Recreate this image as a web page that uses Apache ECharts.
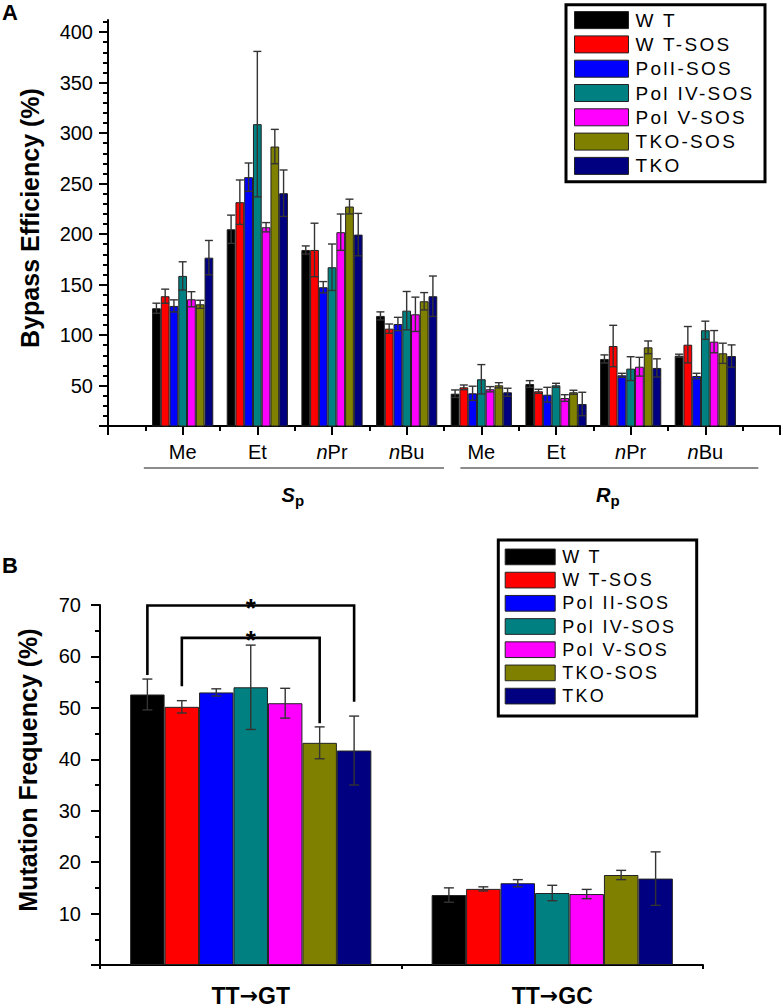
<!DOCTYPE html>
<html><head><meta charset="utf-8">
<script src="https://cdn.jsdelivr.net/npm/echarts@6/dist/echarts.min.js"></script>
<style>
html,body{margin:0;padding:0;background:#fff;}
#c{width:783px;height:1008px;}
#c text[style*="Liberation Sans"]{letter-spacing:2.3px;}
</style></head><body><div id="c"></div>
<script>
// ---------- Panel A data ----------
const catsA = ['Me','Et','nPr','nBu','Me','Et','nPr','nBu'];
const groupsA = ['S','R'];
const namesA = ['W T','W T-SOS','PolI-SOS','Pol IV-SOS','Pol V-SOS','TKO-SOS','TKO'];
const wtA      = [126.6, 204.8, 184.3, 119.0, 42.0, 51.6, 76.4, 79.6];
const wtSosA   = [138.5, 231.6, 184.3, 106.4, 48.3, 44.4, 89.2, 90.5];
const pol2A    = [128.9, 256.4, 147.4, 111.0, 42.4, 41.0, 60.2, 59.5];
const pol4A    = [158.6, 308.9, 167.2, 124.2, 56.3, 50.3, 66.8, 104.8];
const pol5A    = [135.5, 206.8, 201.9, 120.6, 46.4, 37.7, 68.7, 93.5];
const tkoSosA  = [130.5, 286.7, 227.3, 133.5, 50.3, 43.4, 87.9, 82.0];
const tkoA     = [176.7, 240.5, 199.5, 138.5, 43.4, 31.8, 67.5, 79.3];
const wtErrA     = [5, 14, 4, 4, 3.7, 3.3, 4, 1.5];
const wtSosErrA  = [7, 22, 26.5, 4.6, 2.3, 2, 20.5, 18];
const pol2ErrA   = [6, 14, 5.6, 6.6, 7, 7.3, 2, 2.7];
const pol4ErrA   = [14, 72, 23, 19, 14.5, 2, 11.8, 9];
const pol5ErrA   = [7.5, 4.6, 18, 17, 2.6, 3.3, 9.3, 11];
const tkoSosErrA = [4, 17, 7.3, 8.6, 2.6, 2, 6.3, 10];
const tkoErrA    = [17, 23, 21, 20, 4, 11.6, 9, 11];
const yTicksA = [50,100,150,200,250,300,350,400];
const yMinorA = [20,30,40,60,70,80,90,110,120,130,140,160,170,180,190,210,220,230,240,260,270,280,290,310,320,330,340,360,370,380,390,410];

// ---------- Panel B data ----------
const catsB = ['TT\u2192GT','TT\u2192GC'];
const namesB = ['W T','W T-SOS','Pol II-SOS','Pol IV-SOS','Pol V-SOS','TKO-SOS','TKO'];
const wtB     = [52.6, 13.6];
const wtSosB  = [50.2, 14.8];
const pol2B   = [53.0, 15.9];
const pol4B   = [54.0, 14.0];
const pol5B   = [50.9, 13.8];
const tkoSosB = [43.2, 17.5];
const tkoB    = [41.7, 16.8];
const wtErrB     = [3.0, 1.4];
const wtSosErrB  = [1.2, 0.4];
const pol2ErrB   = [0.7, 0.7];
const pol4ErrB   = [8.2, 1.5];
const pol5ErrB   = [2.9, 0.9];
const tkoSosErrB = [3.1, 0.9];
const tkoErrB    = [6.7, 5.2];
// significance brackets: [category, fromSeries, toSeries, topValue, leftFoot, rightFoot]
const bracketsB = [[0, 0, 6, 69.9, 56.4, 51.2], [0, 1, 5, 63.6, 54.2, 47.0]];

const colors = ['#000000','#FF0000','#0000FF','#008080','#FF00FF','#808000','#000080'];

const valsA = [wtA, wtSosA, pol2A, pol4A, pol5A, tkoSosA, tkoA];
const errsA = [wtErrA, wtSosErrA, pol2ErrA, pol4ErrA, pol5ErrA, tkoSosErrA, tkoErrA];
const valsB = [wtB, wtSosB, pol2B, pol4B, pol5B, tkoSosB, tkoB];
const errsB = [wtErrB, wtSosErrB, pol2ErrB, pol4ErrB, pol5ErrB, tkoSosErrB, tkoErrB];

const GAP_A = 0.18, GAP_B = 0.20, N = 7;
const F = 'Arial';
const blk = {color:'#000', width:2};

function errRender(gap, capW){
  return function(params, api){
    const c = api.value(0), s = api.value(1), v = api.value(2), e = api.value(3);
    const bw = api.size([1,0])[0];
    const grp = bw*(1-gap), barW = grp/N;
    const p = api.coord([c, v]);
    const x = p[0] - grp/2 + (s+0.5)*barW;
    const yt = api.coord([c, v+e])[1], yb = api.coord([c, v-e])[1];
    const st = {stroke:'#333', lineWidth:1.4};
    return {type:'group', children:[
      {type:'line', shape:{x1:x,y1:yt,x2:x,y2:yb}, style:st},
      {type:'line', shape:{x1:x-capW/2,y1:yt,x2:x+capW/2,y2:yt}, style:st},
      {type:'line', shape:{x1:x-capW/2,y1:yb,x2:x+capW/2,y2:yb}, style:st}
    ]};
  };
}
function bracketRender(params, api){
  const c = api.value(0), s1 = api.value(1), s2 = api.value(2);
  const top = api.value(3), b1 = api.value(4), b2 = api.value(5);
  const bw = api.size([1,0])[0];
  const grp = bw*(1-GAP_B), barW = grp/N;
  const p = api.coord([c, top]);
  const x1 = p[0] - grp/2 + (s1+0.5)*barW;
  const x2 = p[0] - grp/2 + (s2+0.5)*barW;
  const yt = p[1], y1 = api.coord([c,b1])[1], y2 = api.coord([c,b2])[1];
  return {type:'group', children:[
    {type:'polyline', shape:{points:[[x1,y1],[x1,yt],[x2,yt],[x2,y2]]}, style:{stroke:'#000', lineWidth:2.6, fill:null}},
    {type:'text', style:{text:'*', x:(x1+x2)/2, y:yt+2.5, align:'center', verticalAlign:'middle', fontSize:26, fontWeight:'bold', fontFamily:F, fill:'#000'}}
  ]};
}

const series = [];
namesA.forEach((n,i)=>{
  series.push({type:'bar', name:n, xAxisIndex:0, yAxisIndex:0, data:[null].concat(valsA[i]).concat([null]),
    barGap:'0%', barCategoryGap:(GAP_A*100)+'%', itemStyle:{color:colors[i], borderColor:'#222', borderWidth:1}, z:2});
});
const errDataA = [];
valsA.forEach((arr,s)=>arr.forEach((v,c)=>errDataA.push([c+1, s, v, errsA[s][c]])));
series.push({type:'custom', xAxisIndex:0, yAxisIndex:0, data:errDataA, encode:{x:0,y:2}, renderItem:errRender(GAP_A, 8), z:5, silent:true});
namesB.forEach((n,i)=>{
  series.push({type:'bar', name:n, xAxisIndex:2, yAxisIndex:2, data:valsB[i],
    barGap:'0%', barCategoryGap:(GAP_B*100)+'%', itemStyle:{color:colors[i], borderColor:'#222', borderWidth:1}, z:2});
});
const errDataB = [];
valsB.forEach((arr,s)=>arr.forEach((v,c)=>errDataB.push([c, s, v, errsB[s][c]])));
series.push({type:'custom', xAxisIndex:2, yAxisIndex:2, data:errDataB, encode:{x:0,y:2}, renderItem:errRender(GAP_B, 10), z:5, silent:true});
series.push({type:'custom', xAxisIndex:2, yAxisIndex:2, data:bracketsB, encode:{x:0,y:3}, renderItem:bracketRender, z:6, silent:true, clip:false});

const catLabelA = {interval:0, margin:16, color:'#000', fontSize:20, fontFamily:F,
  formatter: v => v==='' ? '' : (v[0]==='n' ? '{i|n}{r|'+v.slice(1)+'}' : '{r|'+v+'}'),
  rich:{i:{fontStyle:'italic', fontSize:20, fontFamily:F, color:'#000'}, r:{fontSize:20, fontFamily:F, color:'#000'}}};

const catLabelB = {margin:19, color:'#000', fontSize:23, fontWeight:'bold', fontFamily:F,
  formatter: v => { const p = v.split('\u2192'); return '{t|'+p[0]+'}{a|\u2192}{t|'+p[1]+'}'; },
  rich:{t:{fontSize:23, fontWeight:'bold', fontFamily:F, color:'#000'},
        a:{fontSize:22, fontWeight:'bold', fontFamily:'DejaVu Sans', color:'#000'}}};

const option = {
  animation:false,
  backgroundColor:'#fff',
  textStyle:{fontFamily:F},
  title:[
    {text:'A', left:2, top:1, padding:0, textStyle:{fontSize:22, fontWeight:'bold', fontFamily:F, color:'#000'}},
    {text:'B', left:2, top:554, padding:0, textStyle:{fontSize:22, fontWeight:'bold', fontFamily:F, color:'#000'}}
  ],
  grid:[
    {left:108, right:3, top:20, height:406},
    {left:100, right:80, top:605, height:360}
  ],
  xAxis:[
    {gridIndex:0, type:'category', data:[''].concat(catsA).concat(['']), boundaryGap:false, position:'bottom',
     axisLine:{lineStyle:blk}, axisTick:{length:9, lineStyle:blk}, axisLabel:catLabelA, splitLine:{show:false}},
    {gridIndex:0, type:'value', min:0, max:9, position:'bottom', axisLine:{show:false},
     axisTick:{show:true, customValues:[0.5,1.5,2.5,3.5,4.5,5.5,6.5,7.5,8.5], length:5, lineStyle:blk},
     axisLabel:{show:false}, splitLine:{show:false}},
    {gridIndex:1, type:'category', data:catsB, position:'bottom',
     axisLine:{lineStyle:blk}, axisTick:{alignWithLabel:true, length:8, lineStyle:blk},
     axisLabel:catLabelB, splitLine:{show:false}},
    {gridIndex:1, type:'value', min:0, max:2, position:'bottom', axisLine:{show:false},
     axisTick:{show:true, customValues:[0,1,2], length:4, lineStyle:blk},
     axisLabel:{show:false}, splitLine:{show:false}}
  ],
  yAxis:[
    {gridIndex:0, type:'value', min:10, max:412, position:'left',
     axisLine:{show:true, lineStyle:blk}, axisTick:{show:true, customValues:[10].concat(yTicksA), length:9, lineStyle:blk},
     axisLabel:{customValues:yTicksA, margin:15, color:'#000', fontSize:20, fontFamily:F}, splitLine:{show:false},
     name:'Bypass Efficiency (%)', nameLocation:'middle', nameGap:66, nameRotate:90,
     nameTextStyle:{fontSize:25, fontWeight:'bold', fontFamily:F, color:'#000', padding:[0,0,0,10]}},
    {gridIndex:0, type:'value', min:10, max:412, position:'left', axisLine:{show:false},
     axisTick:{show:true, customValues:yMinorA, length:5, lineStyle:blk}, axisLabel:{show:false}, splitLine:{show:false}},
    {gridIndex:1, type:'value', min:0, max:70, interval:10, position:'left',
     axisLine:{show:true, lineStyle:blk}, axisTick:{show:true, length:9, lineStyle:blk},
     minorTick:{show:true, splitNumber:2, length:5, lineStyle:blk},
     axisLabel:{margin:19, color:'#000', fontSize:20, fontFamily:F, formatter:v=> v===0 ? '' : String(v)}, splitLine:{show:false},
     name:'Mutation Frequency (%)', nameLocation:'middle', nameGap:60, nameRotate:90,
     nameTextStyle:{fontSize:25, fontWeight:'bold', fontFamily:F, color:'#000', padding:[0,0,0,30]}}
  ],
  legend:[
    {data:namesA, orient:'vertical', left:574, top:10.6, itemWidth:54, itemHeight:17, itemGap:5.3, icon:'rect', padding:0,
     selectedMode:false, itemStyle:{borderColor:'#222', borderWidth:1},
     textStyle:{fontSize:19, fontFamily:'Liberation Sans', color:'#000', padding:[0,0,0,2]}},
    {data:namesB, orient:'vertical', left:504.7, top:547.9, itemWidth:50, itemHeight:15.7, itemGap:5.2, icon:'rect', padding:0,
     selectedMode:false, itemStyle:{borderColor:'#222', borderWidth:1},
     textStyle:{fontSize:18, fontFamily:'Liberation Sans', color:'#000', padding:[0,0,0,2]}}
  ],
  series: series
};

const chart = echarts.init(document.getElementById('c'), null, {renderer:'svg'});
chart.setOption(option);

// group annotations (S_p, R_p) positioned through the x value axis of panel A
const groupSpans = [[0.48, 4.5], [4.72, 8.71]];
const gfx = [
  {type:'rect', shape:{x:566, y:4.7, width:199, height:177}, style:{fill:null, stroke:'#000', lineWidth:3}, z:10},
  {type:'rect', shape:{x:498.3, y:540, width:198.4, height:176}, style:{fill:null, stroke:'#000', lineWidth:3}, z:10}
];
groupSpans.forEach((sp, k)=>{
  const xa = chart.convertToPixel({xAxisIndex:1}, sp[0]);
  const xb = chart.convertToPixel({xAxisIndex:1}, sp[1]);
  const yl = 468, cx = (xa+xb)/2;
  gfx.push({type:'line', shape:{x1:xa, y1:yl, x2:xb, y2:yl}, style:{stroke:'#666', lineWidth:1.5}});
  gfx.push({type:'text', style:{text:groupsA[k], x:cx+1, y:495, align:'right', verticalAlign:'middle', fontSize:20, fontWeight:'bold', fontStyle:'italic', fontFamily:F, fill:'#000'}});
  gfx.push({type:'text', style:{text:'p', x:cx+1, y:500, align:'left', verticalAlign:'middle', fontSize:15, fontWeight:'bold', fontFamily:F, fill:'#000'}});
});
chart.setOption({graphic:gfx});
</script></body></html>
